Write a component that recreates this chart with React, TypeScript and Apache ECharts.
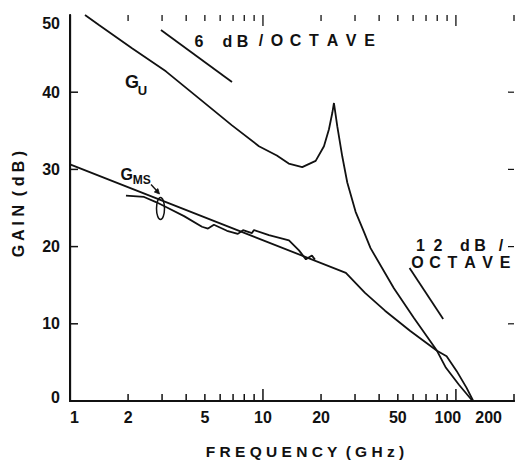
import React, { useEffect, useRef } from "react";
import * as echarts from "echarts";

// ---- axis ticks / labels ----
const xTickLabels = [1, 2, 5, 10, 20, 50, 100, 200];
const xMinorTicks = [2, 3, 4, 5, 6, 7, 8, 9, 20, 30, 40, 50, 60, 70, 80, 90, 200];
const xMajorTicks = [10, 100];
const yTickValues = [10, 20, 30, 40];

// ---- G_U (unilateral gain) ----
const gUFreq = [1.196, 1.413, 2.096, 3.14, 4.66, 6.91, 9.53, 11.8, 13.6, 15.98, 18.76, 20.71, 21.98, 22.87, 23.33, 24.27, 25.76, 27.35, 30.21, 33.37, 36.1, 47.7, 60.6, 79.8, 88.8, 103.7, 122];
const gUGain = [50.0, 48.7, 45.7, 42.7, 39.2, 35.7, 33.0, 31.8, 30.75, 30.3, 31.1, 33.0, 35.2, 37.3, 38.6, 35.6, 31.7, 28.3, 24.5, 21.9, 19.8, 14.6, 10.75, 6.5, 4.3, 2.1, 0];

// ---- G_MS (theoretical) ----
const gmsFreq = [1, 26.9, 33.8, 42.9, 57.8, 79.8, 89.5, 100.8, 113.6, 123];
const gmsGain = [30.65, 16.6, 14.0, 11.7, 9.1, 6.5, 5.8, 3.9, 1.7, 0];

// ---- G_MS (measured) ----
const measFreq = [1.95, 2.42, 2.79, 3.145, 3.9, 4.83, 5.19, 5.57, 6.51, 7.41, 7.88, 8.77, 8.98, 10.74, 13.64, 15.37, 16.7, 17.94, 18.6];
const measGain = [26.6, 26.43, 25.77, 25.13, 23.95, 22.57, 22.34, 22.83, 22.05, 21.65, 22.13, 21.75, 22.15, 21.48, 20.8, 19.51, 18.35, 18.85, 18.31];

// ---- slope reference lines ----
const ref6Freq = [2.96, 6.91];
const ref6Gain = [48.07, 41.33];
const ref12Freq = [57.5, 85.9];
const ref12Gain = [17.24, 10.63];

const lg = (v: number) => Math.log10(v);
const pairs = (f: number[], g: number[]) => f.map((v, i) => [lg(v), g[i]]);

const FONT = "Liberation Sans, Arial, sans-serif";
const INK = "#111";
const X_MIN = 0;
const X_MAX = lg(200);
const Y_MIN = 0;
const Y_MAX = 50;

function charTexts(chars: string[], centers: number[], y: number, size: number) {
  return chars.map((c, i) => ({
    type: "text",
    x: centers[i],
    y,
    style: {
      text: c,
      fontSize: size,
      fontWeight: "bold",
      fontFamily: FONT,
      fill: INK,
      align: "center",
      verticalAlign: "middle",
    },
  }));
}

type Dir = "up" | "down" | "left" | "right";
function tickSeries(points: number[][], len: number, dir: Dir, width = 1.5) {
  return {
    type: "custom",
    data: points,
    clip: false,
    silent: true,
    encode: { x: 0, y: 1 },
    renderItem: (_params: any, api: any) => {
      const p = api.coord([api.value(0), api.value(1)]);
      let x2 = p[0];
      let y2 = p[1];
      if (dir === "up") y2 -= len;
      if (dir === "down") y2 += len;
      if (dir === "right") x2 += len;
      if (dir === "left") x2 -= len;
      return {
        type: "line",
        shape: { x1: p[0], y1: p[1], x2, y2 },
        style: { stroke: INK, lineWidth: width },
      };
    },
  };
}

export default function App() {
  const ref = useRef<HTMLDivElement>(null);
  useEffect(() => {
    if (!ref.current) return;
    const chart = echarts.init(ref.current, undefined, { renderer: "svg" });
    const lineSeries = (data: number[][]) => ({
      type: "line",
      data,
      symbol: "none",
      showSymbol: false,
      smooth: false,
      lineStyle: { color: INK, width: 1.8 },
      silent: true,
    });
    const tickLabelStyle = {
      fontSize: 16,
      fontWeight: "bold",
      fontFamily: FONT,
      color: INK,
    };
    const octave = (c0: number, pitch: number, n: number) =>
      Array.from({ length: n }, (_, i) => c0 + i * pitch);

    chart.setOption({
      animation: false,
      backgroundColor: "#fff",
      grid: { left: 70, right: 3, top: 15, bottom: 58 },
      xAxis: [
        {
          type: "value",
          min: X_MIN,
          max: X_MAX,
          position: "bottom",
          name: "F R E Q U E N C Y  ( G H z )",
          nameLocation: "middle",
          nameGap: 42,
          nameTextStyle: { ...tickLabelStyle, fontSize: 15.5, padding: [0, 0, 0, 26] },
          axisLine: { show: true, lineStyle: { color: INK, width: 2 } },
          axisTick: { show: false },
          axisLabel: {
            show: true,
            customValues: xTickLabels.map(lg),
            margin: 8,
            alignMinLabel: "left",
            alignMaxLabel: "right",
            ...tickLabelStyle,
            formatter: (v: number) => {
              const n = Math.round(Math.pow(10, v));
              if (n === 100) return "{a|100}";
              if (n === 200) return "{b|200}";
              return String(n);
            },
            rich: {
              a: { ...tickLabelStyle, padding: [0, 16, 0, 0] },
              b: { ...tickLabelStyle, padding: [0, 12, 0, 0] },
            },
          },
          splitLine: { show: false },
        },
        {
          type: "value",
          min: X_MIN,
          max: X_MAX,
          position: "top",
          axisLine: { show: true, lineStyle: { color: INK, width: 2 } },
          axisTick: { show: false },
          axisLabel: { show: false },
          splitLine: { show: false },
        },
      ],
      yAxis: [
        {
          type: "value",
          min: Y_MIN,
          max: Y_MAX,
          interval: 10,
          position: "left",
          name: "G A I N  ( d B )",
          nameLocation: "middle",
          nameGap: 44,
          nameTextStyle: { ...tickLabelStyle, fontSize: 16, padding: [0, 0, 0, 8] },
          axisLine: { show: true, lineStyle: { color: INK, width: 2 } },
          axisTick: { show: false },
          axisLabel: {
            ...tickLabelStyle,
            margin: 10,
            formatter: (v: number) => {
              if (v === 50) return "{t|50}";
              if (v === 0) return "{z|0}";
              return String(v);
            },
            rich: {
              t: { ...tickLabelStyle, padding: [16, 0, 0, 0] },
              z: { ...tickLabelStyle, padding: [0, 0, 8, 0] },
            },
          },
          splitLine: { show: false },
        },
        {
          type: "value",
          min: Y_MIN,
          max: Y_MAX,
          interval: 10,
          position: "right",
          axisLine: { show: true, lineStyle: { color: INK, width: 1.3 } },
          axisTick: { show: false },
          axisLabel: { show: false },
          splitLine: { show: false },
        },
      ],
      series: [
        lineSeries(pairs(gUFreq, gUGain)),
        lineSeries(pairs(gmsFreq, gmsGain)),
        lineSeries(pairs(measFreq, measGain)),
        lineSeries(pairs(ref6Freq, ref6Gain)),
        lineSeries(pairs(ref12Freq, ref12Gain)),
        // tick marks drawn through the axes' scales
        tickSeries(xMinorTicks.map((v) => [lg(v), Y_MIN]), 7, "up"),
        tickSeries(xMajorTicks.map((v) => [lg(v), Y_MIN]), 12, "up"),
        tickSeries(xMinorTicks.map((v) => [lg(v), Y_MAX]), 6, "down", 1.3),
        tickSeries(xMajorTicks.map((v) => [lg(v), Y_MAX]), 11, "down", 1.3),
        tickSeries(yTickValues.map((v) => [X_MIN, v]), 8, "right"),
        tickSeries(yTickValues.map((v) => [X_MAX, v]), 6, "left", 1.2),
      ],
      graphic: [
        ...charTexts(["6"], [199], 41, 16),
        ...charTexts(["d", "B"], [227.5, 242.5], 41, 16),
        ...charTexts(["/", "O", "C", "T", "A", "V", "E"], [261, ...octave(277, 18.5, 6)], 40, 16),
        ...charTexts(["1", "2", "d", "B", "/"], [420.5, 438, 465, 480, 501], 245, 16),
        ...charTexts(["O", "C", "T", "A", "V", "E"], octave(417.5, 17.5, 6), 262, 16),
        {
          type: "text",
          x: 132,
          y: 81.5,
          style: { text: "G", fontSize: 18, fontWeight: "bold", fontFamily: FONT, fill: INK, align: "center", verticalAlign: "middle" },
        },
        {
          type: "text",
          x: 142.5,
          y: 90,
          style: { text: "U", fontSize: 13, fontWeight: "bold", fontFamily: FONT, fill: INK, align: "center", verticalAlign: "middle" },
        },
        {
          type: "text",
          x: 126.7,
          y: 174,
          style: { text: "G", fontSize: 16, fontWeight: "bold", fontFamily: FONT, fill: INK, align: "center", verticalAlign: "middle" },
        },
        {
          type: "text",
          x: 141.7,
          y: 179.5,
          style: { text: "MS", fontSize: 12, fontWeight: "bold", fontFamily: FONT, fill: INK, align: "center", verticalAlign: "middle" },
        },
        {
          type: "line",
          shape: { x1: 151, y1: 184.5, x2: 157, y2: 191 },
          style: { stroke: INK, lineWidth: 1.4 },
        },
        {
          type: "polygon",
          shape: { points: [[159.5, 194], [154.3, 192.0], [157.9, 188.6]] },
          style: { fill: INK, stroke: INK, lineWidth: 0.8 },
        },
        {
          type: "ellipse",
          shape: { cx: 160.5, cy: 208.5, rx: 4, ry: 11 },
          style: { fill: "none", stroke: INK, lineWidth: 1.5 },
        },
      ],
    });
    return () => chart.dispose();
  }, []);
  return <div ref={ref} style={{ width: 517, height: 464, position: "absolute", left: 0, top: 0 }} />;
}
